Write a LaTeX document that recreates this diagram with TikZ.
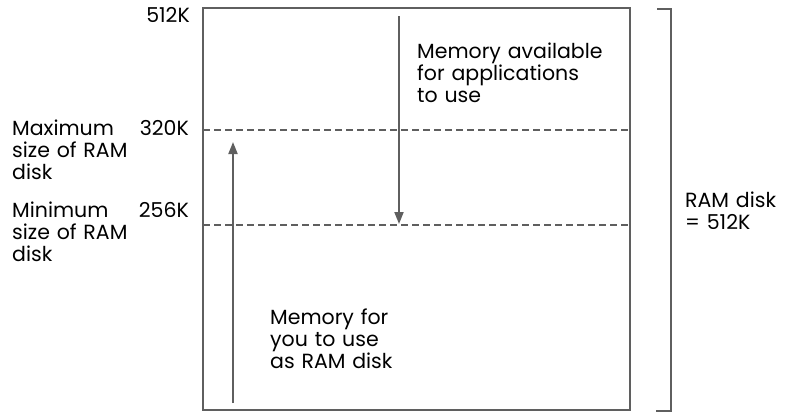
\documentclass[tikz,border=0pt]{standalone}
\usepackage{fontspec}
\setmainfont{Poppins}
\usetikzlibrary{arrows.meta}
\definecolor{linegray}{RGB}{95,95,95}
\begin{document}
\begin{tikzpicture}[x=1pt,y=-1pt,
  ln/.style={draw=linegray, line width=1.9pt},
  dsh/.style={draw=linegray, line width=1.6pt, dash pattern=on 7pt off 4pt},
  arr/.style={draw=linegray, line width=1.9pt, -{Triangle[length=12pt,width=9pt]}},
  lbl/.style={inner sep=0pt, font=\fontsize{20.5}{22}\selectfont, text width=#1, align=left, anchor=base west},
  val/.style={inner sep=0pt, font=\fontsize{20.5}{22}\selectfont, anchor=base east},
]
\useasboundingbox (0,0) rectangle (789,413);
% box corners
\coordinate (tl) at (203,8);
\coordinate (br) at (630,410);
\draw[ln] (tl) rectangle (br);
% dashed levels
\coordinate (l320) at (203,130);
\coordinate (r320) at (630,130);
\coordinate (l256) at (203,225);
\coordinate (r256) at (630,225);
\draw[dsh] (l320) -- (r320);
\draw[dsh] (l256) -- (r256);
% arrows
\coordinate (dtop) at (399,16);
\coordinate (dtip) at (399,224);
\draw[arr] (dtop) -- (dtip);
\coordinate (ubot) at (233,403);
\coordinate (utip) at (233,142);
\draw[arr] (ubot) -- (utip);
% bracket
\coordinate (b1) at (657,9);
\coordinate (b2) at (671,9);
\coordinate (b3) at (671,411);
\coordinate (b4) at (656,411);
\draw[ln] (b1) -- (b2) -- (b3) -- (b4);
% labels
\node[val] (k512) at (190,22) {512K};
\node[val] (k320) at (189,135) {320K};
\node[val] (k256) at (189,217) {256K};
\node[lbl=130pt] (maxl) at (12,135) {Maximum\\size of RAM\\disk};
\node[lbl=130pt] (minl) at (12,217) {Minimum\\size of RAM\\disk};
\node[lbl=210pt] (appl) at (417,58) {Memory available\\for applications\\to use};
\node[lbl=160pt] (raml) at (270,324) {Memory for\\you to use\\as RAM disk};
\node[lbl=110pt] (tot) at (685,207) {RAM disk\\= 512K};
\end{tikzpicture}
\end{document}
